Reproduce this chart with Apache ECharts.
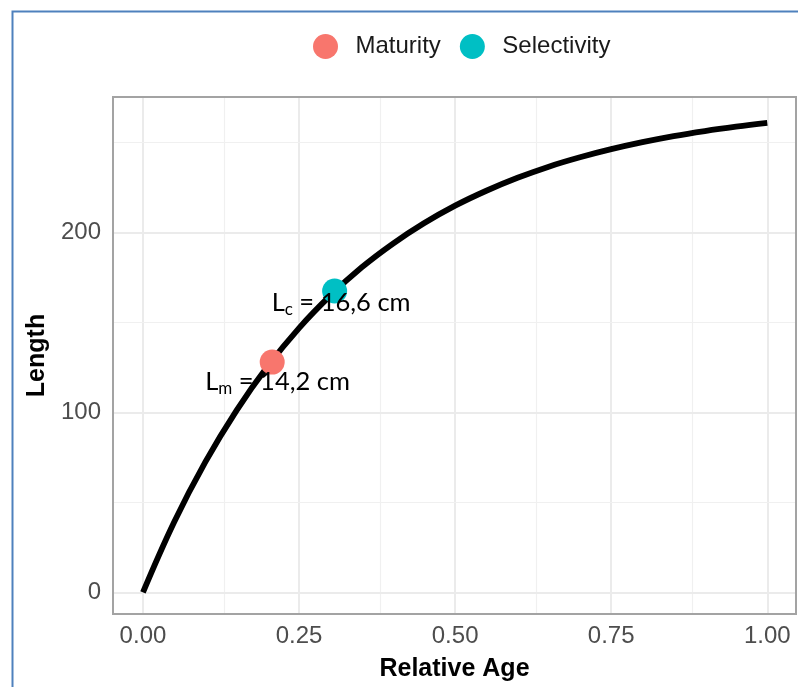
<!DOCTYPE html>
<html><head><meta charset="utf-8">
<script src="https://cdn.jsdelivr.net/npm/echarts@6/dist/echarts.min.js"></script>
<style>html,body{margin:0;padding:0;background:#fff}#c{width:798px;height:687px}</style>
</head><body><div id="c"></div>
<script>
// ---- data ----
const ageValues    = [0, 0.05, 0.10, 0.15, 0.20, 0.25, 0.30, 0.35, 0.40, 0.45, 0.50, 0.55, 0.60, 0.65, 0.70, 0.75, 0.80, 0.85, 0.90, 0.95, 1.00];
const lengthValues = [0, 39.1, 72.5, 101.2, 125.8, 146.9, 164.9, 180.5, 193.7, 205.1, 214.9, 223.2, 230.4, 236.6, 241.8, 246.3, 250.2, 253.6, 256.4, 258.8, 260.9];
const maturityPoint    = [0.207, 128];
const selectivityPoint = [0.307, 167.5];
const maturityText    = '14,2 cm';
const selectivityText = '16,6 cm';
const xTickValues = [0, 0.25, 0.5, 0.75, 1];
const xTickLabels = ['0.00', '0.25', '0.50', '0.75', '1.00'];
const xMinorValues = [0.125, 0.375, 0.625, 0.875];
const yTickValues = [0, 100, 200];
const yTickLabels = ['0', '100', '200'];
const yMinorValues = [50, 150, 250];
const seriesNames = ['Maturity', 'Selectivity'];

const chart = echarts.init(document.getElementById('c'), null, {renderer: 'canvas'});
const sans = 'Liberation Sans';
const annFont = 'Lato';

function richLabel(sub, text) {
  return '{a|L}{b|' + sub + '}{a| = ' + text + '}';
}
const rich = {
  a: {fontFamily: annFont, fontSize: 25.5, color: '#000', verticalAlign: 'middle', lineHeight: 30},
  b: {fontFamily: annFont, fontSize: 17, color: '#000', verticalAlign: 'bottom', lineHeight: 20}
};

const gridLines = [];
xTickValues.forEach(v => gridLines.push({xAxis: v, lineStyle: {color: '#ebebeb', width: 2, type: 'solid'}}));
xMinorValues.forEach(v => gridLines.push({xAxis: v, lineStyle: {color: '#f0f0f0', width: 1.2, type: 'solid'}}));
yTickValues.forEach(v => gridLines.push({yAxis: v, lineStyle: {color: '#ebebeb', width: 2, type: 'solid'}}));
yMinorValues.forEach(v => gridLines.push({yAxis: v, lineStyle: {color: '#f0f0f0', width: 1.2, type: 'solid'}}));

const option = {
  animation: false,
  backgroundColor: '#fff',
  graphic: [{
    type: 'rect', left: 10, top: 9, silent: true, z: 100,
    shape: {width: 900, height: 900},
    style: {fill: 'none', stroke: '#4f81bd', lineWidth: 2}
  }],
  legend: {
    data: seriesNames,
    left: 308, top: 29,
    icon: 'circle',
    itemWidth: 50, itemHeight: 25, itemGap: 19,
    textStyle: {fontFamily: sans, fontSize: 24, color: '#1a1a1a'}
  },
  grid: {
    left: 113, right: 2, top: 97, bottom: 72,
    show: true, z: 10, backgroundColor: 'transparent',
    borderColor: '#a3a3a3', borderWidth: 2
  },
  xAxis: {
    type: 'value', min: -0.048, max: 1.046,
    name: 'Relative Age', nameLocation: 'middle', nameGap: 43,
    nameTextStyle: {fontFamily: sans, fontSize: 25, fontWeight: 'bold', color: '#000'},
    axisLine: {show: false},
    splitLine: {show: false},
    axisTick: {show: true, inside: false, length: 5, customValues: xTickValues, lineStyle: {color: '#a3a3a3', width: 1.5}},
    axisLabel: {customValues: xTickValues, margin: 10, fontFamily: sans, fontSize: 24, color: '#4d4d4d',
      formatter: v => { const i = xTickValues.findIndex(t => Math.abs(t - v) < 1e-9); return i >= 0 ? xTickLabels[i] : ''; }}
  },
  yAxis: {
    type: 'value', min: -12, max: 275.3,
    name: 'Length', nameLocation: 'middle', nameGap: 62, nameRotate: 90,
    nameTextStyle: {fontFamily: sans, fontSize: 25, fontWeight: 'bold', color: '#000'},
    axisLine: {show: false},
    splitLine: {show: false},
    axisTick: {show: true, inside: false, length: 5, customValues: yTickValues, lineStyle: {color: '#a3a3a3', width: 1.5}},
    axisLabel: {customValues: yTickValues, margin: 12, fontFamily: sans, fontSize: 24, color: '#4d4d4d',
      formatter: v => { const i = yTickValues.findIndex(t => Math.abs(t - v) < 1e-9); return i >= 0 ? yTickLabels[i] : ''; }}
  },
  series: [
    {
      name: 'grid', type: 'line', z: 1, silent: true,
      data: [[0, 0]], symbol: 'none', lineStyle: {opacity: 0},
      markLine: {z: 1, silent: true, symbol: ['none', 'none'], label: {show: false}, animation: false, data: gridLines}
    },
    {
      name: 'curve', type: 'line', z: 3, silent: true,
      data: ageValues.map((a, i) => [a, lengthValues[i]]),
      smooth: 0.4, symbol: 'none',
      lineStyle: {color: '#000', width: 5.8, cap: 'butt'}
    },
    {
      name: seriesNames[0], type: 'scatter', z: 4,
      data: [maturityPoint], symbolSize: 25,
      itemStyle: {color: '#F8766D', opacity: 1},
      label: {show: true, position: 'inside', align: 'left', verticalAlign: 'middle', offset: [-67, 20],
        formatter: richLabel('m', maturityText), rich: rich}
    },
    {
      name: seriesNames[1], type: 'scatter', z: 4,
      data: [selectivityPoint], symbolSize: 25,
      itemStyle: {color: '#00BFC4', opacity: 1},
      label: {show: true, position: 'inside', align: 'left', verticalAlign: 'middle', offset: [-63, 12],
        formatter: richLabel('c', selectivityText), rich: rich}
    }
  ]
};
chart.setOption(option);
</script>
</body></html>
